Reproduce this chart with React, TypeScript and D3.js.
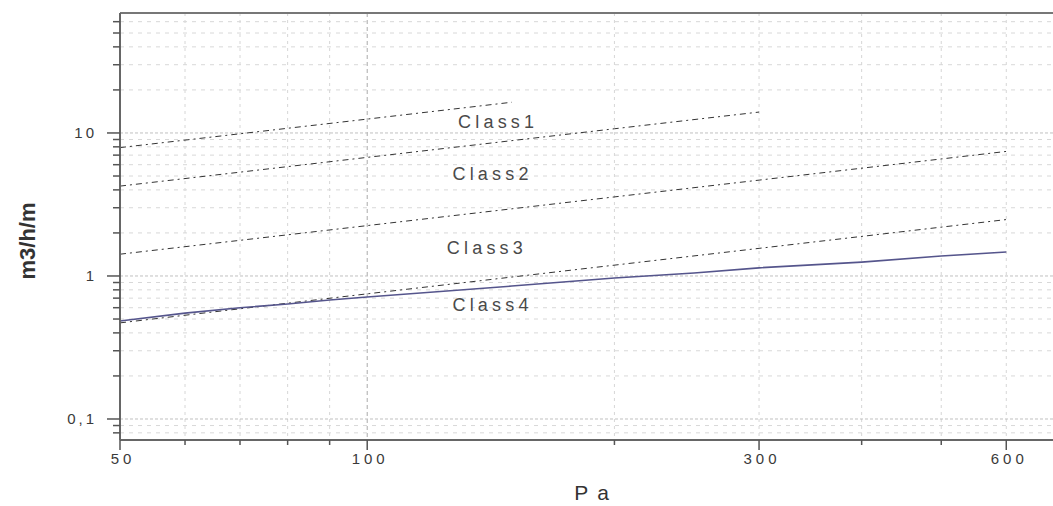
import * as d3 from 'd3'

const W = 1053
const H = 506

// pressure (Pa) ticks and labels
const xTicks = [50, 60, 70, 80, 90, 100, 200, 300, 400, 500, 600]
const xMajor = [50, 100, 300, 600]
const xLabels = ['50', '100', '300', '600']

// leakage ticks (m3/h/m)
const yTicks = [0.08, 0.09, 0.1, 0.2, 0.3, 0.4, 0.5, 0.6, 0.7, 0.8, 0.9, 1, 2, 3, 4, 5, 6, 7, 8, 9, 10, 20, 30, 40, 50, 60]
const yMajor = [0.1, 1, 10]
const yLabels = ['0,1', '1', '10']

// class limit curves
const class1Pa = [50, 100, 150]
const class1Val = [7.9, 12.5, 16.4]
const class2Pa = [50, 100, 200, 300]
const class2Val = [4.25, 6.75, 10.7, 14.0]
const class3Pa = [50, 100, 300, 600]
const class3Val = [1.42, 2.25, 4.68, 7.43]
const class4Pa = [50, 100, 300, 600]
const class4Val = [0.47, 0.75, 1.56, 2.48]

// measured window curve (solid blue)
const measPa = [50, 60, 70, 80, 90, 100, 150, 200, 250, 300, 400, 500, 600]
const measVal = [0.485, 0.55, 0.6, 0.637, 0.68, 0.713, 0.85, 0.968, 1.05, 1.14, 1.25, 1.38, 1.47]

const classNames = ['Class1', 'Class2', 'Class3', 'Class4']
const labelPa = [129, 127, 125, 127]
const labelVal = [10.8, 4.69, 1.425, 0.569]

const TXT = '#3a3a3a'

export default function App() {
  const x = d3.scaleLog().domain([50, 684]).range([120, 1053])
  const y = d3.scaleLog().domain([0.0713, 69]).range([440, 13])

  const line = d3
    .line<[number, number]>()
    .x((d) => x(d[0]))
    .y((d) => y(d[1]))

  const classes = [
    [class1Pa, class1Val],
    [class2Pa, class2Val],
    [class3Pa, class3Val],
    [class4Pa, class4Val],
  ].map(([p, v]) => p.map((pa, i) => [pa, v[i]] as [number, number]))
  const measured = measPa.map((pa, i) => [pa, measVal[i]] as [number, number])

  const [x0, x1] = x.range()
  const [yb, yt] = y.range()

  return (
    <svg
      width={W}
      height={H}
      style={{ position: 'absolute', left: 0, top: 0, background: '#fff', fontFamily: 'Liberation Sans, Arial, sans-serif' }}
    >
      {/* grid */}
      {xTicks.map((t) => (
        <line
          key={'gx' + t}
          x1={x(t)}
          x2={x(t)}
          y1={yt}
          y2={yb}
          stroke={t === 100 ? '#aaa' : '#d6d6d6'}
          strokeWidth={1}
          strokeDasharray={t === 100 ? '4,3' : '3,4'}
        />
      ))}
      {yTicks.map((t) => (
        <line
          key={'gy' + t}
          x1={x0}
          x2={x1}
          y1={y(t)}
          y2={y(t)}
          stroke={yMajor.includes(t) ? '#c0c0c0' : '#d8d8d8'}
          strokeWidth={1}
          strokeDasharray={yMajor.includes(t) ? '3,2' : '4,5'}
        />
      ))}

      {/* class limit lines */}
      {classes.map((c, i) => (
        <path key={'c' + i} d={line(c) || ''} fill="none" stroke="#333" strokeWidth={1} strokeDasharray="6,4,2,4" />
      ))}
      <path d={line(measured) || ''} fill="none" stroke="#55558c" strokeWidth={1.6} />

      {classNames.map((n, i) => (
        <text key={n} x={x(labelPa[i])} y={y(labelVal[i])} fontSize={18} letterSpacing={4.2} fill="#4a4a4a">
          {n}
        </text>
      ))}

      {/* frame */}
      <line x1={x0} x2={x1} y1={yt} y2={yt} stroke="#777" strokeWidth={2} />
      <line x1={x0} x2={x0} y1={yt} y2={yb} stroke="#666" strokeWidth={2} />
      <line x1={x0} x2={x1} y1={yb} y2={yb} stroke="#666" strokeWidth={2} />

      {/* y ticks */}
      {yTicks.map((t) => {
        const major = yMajor.includes(t)
        return (
          <line key={'ty' + t} x1={x0 - (major ? 13 : 7)} x2={x0} y1={y(t)} y2={y(t)} stroke="#555" strokeWidth={1.5} />
        )
      })}
      {yMajor.map((t, i) => (
        <text key={'ly' + t} x={97} y={y(t)} dy="0.35em" textAnchor="end" fontSize={15} letterSpacing={3} fill={TXT}>
          {yLabels[i]}
        </text>
      ))}

      {/* x ticks */}
      {xTicks.map((t) => {
        const major = xMajor.includes(t)
        return (
          <line key={'tx' + t} x1={x(t)} x2={x(t)} y1={yb} y2={yb + (major ? 10 : 5)} stroke="#555" strokeWidth={1.5} />
        )
      })}
      {xMajor.map((t, i) => (
        <text key={'lx' + t} x={x(t) + 3} y={464} textAnchor="middle" fontSize={15} letterSpacing={4} fill={TXT}>
          {xLabels[i]}
        </text>
      ))}

      {/* axis titles */}
      <text x={596} y={500} textAnchor="middle" fontSize={21} letterSpacing={9} fill="#333">
        Pa
      </text>
      <text
        transform="translate(35,241) rotate(-90)"
        textAnchor="middle"
        fontSize={22}
        fontWeight={600}
        fill="#333"
      >
        m3/h/m
      </text>
    </svg>
  )
}
